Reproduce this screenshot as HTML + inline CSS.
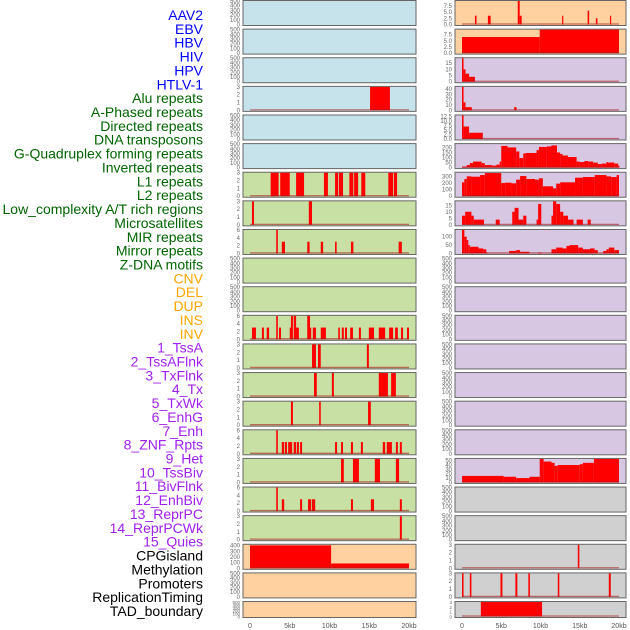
<!DOCTYPE html>
<html><head><meta charset="utf-8"><style>
body{margin:0;background:#fff;}
svg{display:block;font-family:"Liberation Sans",sans-serif;}
</style></head><body>
<svg id="chart" width="630" height="630" viewBox="0 0 630 630"></svg>
<script>
const featureNames = ["AAV2","EBV","HBV","HIV","HPV","HTLV-1","Alu repeats","A-Phased repeats","Directed repeats","DNA transposons","G-Quadruplex forming repeats","Inverted repeats","L1 repeats","L2 repeats","Low_complexity A/T rich regions","Microsatellites","MIR repeats","Mirror repeats","Z-DNA motifs","CNV","DEL","DUP","INS","INV","1_TssA","2_TssAFlnk","3_TxFlnk","4_Tx","5_TxWk","6_EnhG","7_Enh","8_ZNF_Rpts","9_Het","10_TssBiv","11_BivFlnk","12_EnhBiv","13_ReprPC","14_ReprPCWk","15_Quies","CPGisland","Methylation","Promoters","ReplicationTiming","TAD_boundary"];
const featureGroups = ["v","v","v","v","v","v","r","r","r","r","r","r","r","r","r","r","r","r","r","s","s","s","s","s","c","c","c","c","c","c","c","c","c","c","c","c","c","c","c","o","o","o","o","o"];
const xTickLabels = ["0","5kb","10kb","15kb","20kb"];
const xTickValues = [0,5,10,15,20];
const emptyTicks = [0,100,200,300,400,500];
const ticks3 = [0,1,2,3];
const ticks6 = [0,2,4,6];
// bars: [startKb, endKb, value]
const hivBars = [[15.1,17.6,3]];
const aluBars = [[2.6,3.6,3],[3.8,5.0,3],[5.8,6.8,3],[9.3,9.8,3],[10.7,11.1,3],[11.2,11.7,3],[12.5,13.0,3],[13.1,13.6,3],[14.0,14.5,3],[17.4,18.0,3],[18.1,18.5,3]];
const aPhasedBars = [[0.25,0.5,3],[7.4,7.8,3]];
const directedBars = [[3.3,3.5,6],[4.0,4.4,3],[7.2,7.5,3],[8.9,9.2,3],[10.7,10.9,3],[12.7,13.0,3],[18.7,19.1,3]];
const invertedBars = [[0.25,0.75,3],[1.5,1.75,3],[2.1,2.4,3],[3.3,3.5,6],[3.65,3.9,3],[5.0,5.3,3],[5.15,5.4,6],[5.5,5.8,6],[5.65,6.15,3],[7.2,7.55,6],[7.4,7.7,3],[7.9,8.3,3],[8.9,9.55,3],[11.1,11.3,3],[11.55,11.8,3],[11.95,12.2,3],[12.6,12.95,3],[13.7,13.95,3],[14.95,15.6,3],[16.2,17.0,3],[17.5,18.0,3],[18.25,18.6,3],[19.0,19.25,3],[19.75,20.0,3]];
const l1Bars = [[7.8,8.3,3],[8.55,8.9,3],[14.7,14.95,3]];
const l2Bars = [[8.05,8.4,3],[10.3,10.55,3],[16.2,17.35,3],[17.75,18.35,3]];
const lowComplexBars = [[5.15,5.4,3],[8.7,8.9,3],[14.85,15.2,3]];
const microsatBars = [[3.3,3.5,6],[4.0,4.3,3],[4.4,4.65,3],[4.8,5.3,3],[5.5,5.8,3],[5.9,6.15,3],[6.3,6.55,3],[10.7,10.95,3],[11.45,11.7,3],[12.7,12.95,3],[13.95,14.2,3],[16.7,17.0,3],[17.2,17.85,3],[18.35,18.6,3],[18.85,19.1,3]];
const mirBars = [[11.45,11.8,3],[12.95,13.7,3],[15.7,16.35,3],[18.35,18.75,3]];
const mirrorBars = [[3.3,3.5,6],[4.0,4.3,3],[6.3,6.55,3],[7.3,7.7,3],[7.8,8.2,3],[12.7,12.95,3],[15.2,15.6,3],[18.85,19.1,3]];
const zdnaBars = [[18.85,19.1,3]];
const cnvBars = [[0,10.2,405],[10.2,20,85]];
const insBars = [[1.65,1.85,3.5],[3.3,3.65,3.5],[7.1,7.35,10],[7.35,7.6,3.5],[12.75,12.9,3.5],[16.0,16.2,5.5],[17.05,17.25,2.5],[18.85,19.0,3.5]];
const invBars = [[0,9.9,6.5],[9.9,20,9.5]];
const tssABars = [[0,0.2,19],[0.2,0.45,10],[0.45,0.9,6.5],[0.9,1.65,4]];
const tssAFlnkBars = [[0,0.2,44],[0.2,0.45,15],[0.45,1.25,6],[6.65,6.95,6]];
const txFlnkBars = [[0,0.2,13.5],[0.2,0.9,7],[0.9,2.65,3.5]];
const txBars = [[0,0.6,10],[0.6,1.0,25],[1.0,1.4,45],[1.4,2.5,60],[2.5,2.9,45],[2.9,3.8,25],[3.8,4.4,20],[4.4,4.8,30],[4.8,5.0,60],[5.0,5.8,215],[5.8,6.9,200],[6.9,7.3,160],[7.3,7.8,95],[7.8,8.1,140],[8.1,9.5,145],[9.5,9.8,175],[9.8,10.8,205],[10.8,11.4,210],[11.4,12.1,220],[12.1,12.5,150],[12.5,12.8,135],[12.8,13.5,120],[13.5,14.6,105],[14.6,15.0,60],[15.0,15.6,55],[15.6,16.1,65],[16.1,16.7,60],[16.7,17.3,50],[17.3,17.8,35],[17.8,18.4,40],[18.4,18.6,55],[18.6,19.4,50],[19.4,19.9,40],[19.9,20,20]];
const txWkBars = [[0,0.3,210],[0.3,0.6,260],[0.6,1.2,300],[1.2,2.3,295],[2.3,2.9,320],[2.9,5.0,350],[5.0,5.5,200],[5.5,6.3,205],[6.3,6.9,195],[6.9,7.4,250],[7.4,8.2,305],[8.2,9.3,260],[9.3,9.8,250],[9.8,10.3,270],[10.3,11.6,150],[11.6,12.0,120],[12.0,12.5,190],[12.5,14.4,210],[14.4,15.4,280],[15.4,16.9,290],[16.9,18.4,320],[18.4,19.0,300],[19.0,19.7,290],[19.7,20,320]];
const enhGBars = [[0,0.4,7],[0.4,1.2,10],[1.2,1.5,7],[1.5,2.8,4],[4.3,4.8,4],[6.4,6.7,10],[6.7,7.2,13],[7.2,7.8,4],[7.8,8.2,7],[9.5,9.7,4],[9.7,10.1,16],[11.4,11.6,7],[11.6,12.0,19],[12.0,12.5,16],[12.5,12.9,10],[12.9,13.5,7],[13.5,14.2,4],[14.6,15.4,4],[16.0,16.4,4]];
const enhBars = [[0,0.3,140],[0.3,0.6,100],[0.6,0.8,80],[0.8,1.0,50],[1.0,2.1,40],[2.1,2.7,30],[2.7,3.1,25],[3.1,3.3,5],[6.0,6.9,15],[6.9,7.4,20],[7.4,8.6,10],[9.7,10.1,5],[11.4,12.0,25],[12.0,12.8,35],[12.8,13.3,30],[13.3,13.7,45],[13.7,14.8,50],[14.8,15.4,35],[15.4,16.3,25],[16.3,16.9,30],[16.9,17.3,20],[18.0,18.4,15],[18.4,18.7,25],[18.7,19.4,35],[19.4,20,20]];
const quiesBars = [[0,5.3,15],[5.3,6.9,13],[6.9,8.6,10],[8.6,9.9,13],[9.9,10.4,54],[10.4,11.4,48],[11.4,11.8,45],[11.8,12.2,38],[12.2,15.0,40],[15.0,15.4,42],[15.4,16.8,45],[16.8,20,54]];
const promoterBars = [[14.75,14.95,3]];
const replicationBars = [[0,0.2,3],[1.0,1.2,3],[4.9,5.15,3],[6.8,7.05,3],[8.45,8.65,3],[12.2,12.4,3],[18.7,18.95,3]];
const tadBars = [[2.4,10.2,3]];

// panel specs: [bars, ymax, ticks]
const E = [null,500,emptyTicks];
const panelSpecs = [
 E,E,E,[hivBars,3,ticks3],E,E,
 [aluBars,3,ticks3],[aPhasedBars,3,ticks3],[directedBars,6,ticks6],E,E,[invertedBars,6,ticks6],[l1Bars,3,ticks3],[l2Bars,3,ticks3],[lowComplexBars,3,ticks3],[microsatBars,6,ticks6],[mirBars,3,ticks3],[mirrorBars,6,ticks6],[zdnaBars,3,ticks3],
 [cnvBars,415,[0,100,200,300,400]],E,E,
 [insBars,9.4,[0,2.5,5,7.5],1],[invBars,9.5,[0,2.5,5,7.5],1],
 [tssABars,19,[0,5,10,15]],[tssAFlnkBars,44,[0,10,20,30,40]],[txFlnkBars,13.2,[0,2.5,5,7.5,10,12.5],1],[txBars,233,[0,50,100,150,200]],[txWkBars,355,[0,100,200,300]],[enhGBars,18,[0,5,10,15]],[enhBars,140,[0,50,100]],
 E,E,E,E,E,E,E,[quiesBars,54,[0,10,20,30,40,50]],
 E,E,[promoterBars,3,ticks3],[replicationBars,3,ticks3],[tadBars,3,ticks3]
];
const bgColors = {v:"#c6e3ec",r:"#c8e0a4",s:"#ffd1a0",c:"#d7c7e3",o:"#d0d0d0"};
const labelColors = {v:"#0000ff",r:"#006400",s:"#ffa500",c:"#a020f0",o:"#000000"};

const NS="http://www.w3.org/2000/svg";
const svg=document.getElementById('chart');
function mk(tag,attrs,parent){const e=document.createElementNS(NS,tag);for(const k in attrs)e.setAttribute(k,attrs[k]);(parent||svg).appendChild(e);return e;}

// labels
featureNames.forEach((n,i)=>{
  const t=mk('text',{x:203,y:20+i*13.86,'text-anchor':'end','font-size':'14',fill:labelColors[featureGroups[i]]});
  t.textContent=n;
  
  
});

const cols=[{rx:243,rw:173,x0:250,x1:409},{rx:455,rw:171,x0:462,x1:619}];
for(let i=0;i<44;i++){
  const c=cols[i<22?0:1], r=i%22;
  const top=r*28.62, h=(r==21)?16:25;
  const spec=panelSpecs[i];
  const g=mk('g',{});
  
  
  mk('rect',{x:c.rx,y:top+0.5,width:c.rw,height:h,fill:bgColors[featureGroups[i]],stroke:'#666','stroke-width':1},g);
  const ymax=spec[1];
  const yb=top+h-0.5, yt=top+1;
  const ys=v=>yb-Math.min(v,ymax)/ymax*(yb-yt);
  const xs=k=>c.x0+k/20*(c.x1-c.x0);
  // ticks
  spec[2].forEach(tv=>{
    const t=mk('text',{x:c.rx-3,y:ys(tv)+2,'text-anchor':'end','font-size':(h<20?4.5:6),fill:'#666'},g);
    t.textContent=spec[3]?tv.toFixed(1):tv;
    
    
  });
  if(spec[0]){
    spec[0].forEach(b=>{
      const x=xs(b[0]), w=Math.max(1.2,xs(b[1])-x);
      const bar=mk('rect',{x:x,y:ys(b[2]),width:w,height:yb-ys(b[2]),fill:'#ff0000'},g);
      
      
    });
    const bl=mk('line',{x1:xs(0),x2:xs(20),y1:yb-0.5,y2:yb-0.5,stroke:'rgba(170,30,30,0.6)','stroke-width':1.3},g);
    
    
  }
}
cols.forEach(c=>{
  xTickValues.forEach((v,j)=>{
    const t=mk('text',{x:c.x0+v/20*(c.x1-c.x0),y:628,'text-anchor':'middle','font-size':'7',fill:'#555'});
    t.textContent=xTickLabels[j];
    
    
  });
});
</script>
</body></html>
